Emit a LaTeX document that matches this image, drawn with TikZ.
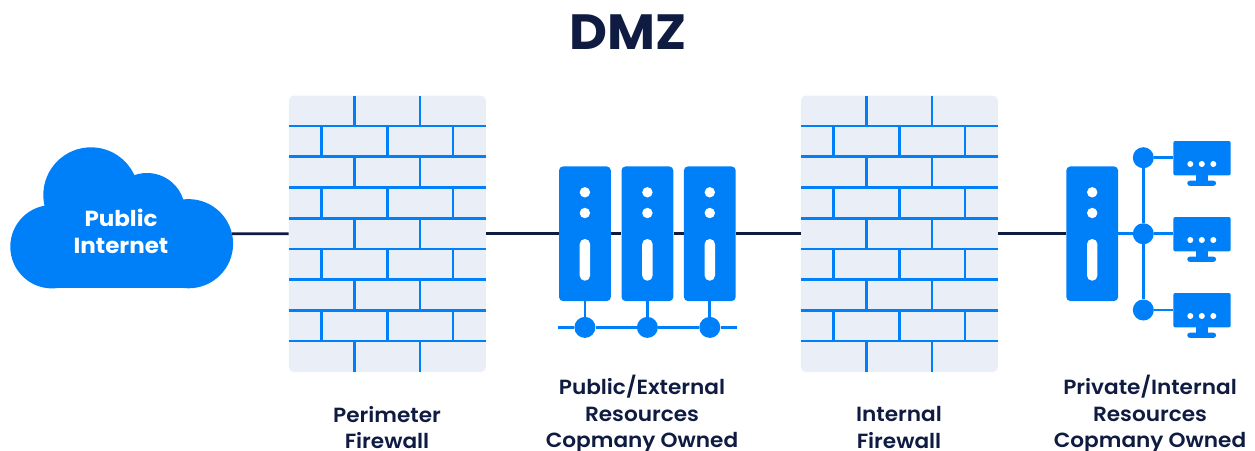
\documentclass[tikz,border=0pt]{standalone}
\usepackage{fontspec}
\setmainfont{Poppins SemiBold}[BoldFont={Poppins Bold},FakeStretch=1.055]
\definecolor{bluec}{HTML}{0080F8}
\definecolor{navy}{HTML}{0F1B41}
\definecolor{wallc}{HTML}{EAEEF6}
\tikzset{
  wall/.style={fill=wallc,rounded corners=5pt,minimum width=197pt,minimum height=276.5pt,inner sep=0pt,draw=none},
  brick/.style={draw=bluec,line width=2.7pt},
  srv/.style={fill=bluec,rounded corners=4pt,minimum width=51.8pt,minimum height=134.6pt,inner sep=0pt,draw=none},
  hub/.style={circle,fill=bluec,minimum size=21pt,inner sep=0pt,draw=none},
  link/.style={draw=bluec,line width=2.7pt},
  wire/.style={draw=navy,line width=2.7pt},
  lbl/.style={text=navy,align=center,font=\fontsize{20.5pt}{26.5pt}\selectfont,anchor=center},
  mon/.style={fill=bluec,rounded corners=2pt,minimum width=57.4pt,minimum height=34.4pt,inner sep=0pt,draw=none},
}
\newcommand{\bricks}[1]{%
  \begin{scope}[xshift=#1pt]
    \foreach \yy in {126,156.7,187.7,218.3,249,279.7,310.3,341}
      \draw[brick] (289,\yy) -- (485.7,\yy);
    \foreach \a/\b in {95.5/126,156.7/187.7,218.3/249,279.7/310.3,341/372}
      \foreach \xx in {354.7,420}
        \draw[brick] (\xx,\a) -- (\xx,\b);
    \foreach \a/\b in {126/156.7,187.7/218.3,249/279.7,310.3/341}
      \foreach \xx in {321.7,387.3,453}
        \draw[brick] (\xx,\a) -- (\xx,\b);
  \end{scope}}
\newcommand{\srvholes}[1]{%
  \fill[white] (#1,192.3) circle (5.2);
  \fill[white] (#1,213) circle (5.2);
  \fill[white,rounded corners=5.1pt] (#1-5.2,239) rectangle (#1+5.2,280.7);}
\newcommand{\monparts}[1]{%
  \fill[bluec] (1195.7,175+#1) rectangle (1208.3,182+#1);
  \fill[bluec,rounded corners=2.4pt] (1187.3,180.7+#1) rectangle (1216,185.8+#1);
  \fill[white] (1190.3,164+#1) circle (3);
  \fill[white] (1201.8,164+#1) circle (3);
  \fill[white] (1213.3,164+#1) circle (3);}
\begin{document}
\begin{tikzpicture}[x=1pt,y=-1pt]
\useasboundingbox (0,0) rectangle (1255,450);
% cloud
\fill[bluec] (52,246.7) circle (41.7);
\fill[bluec] (188.5,243.7) circle (44.6);
\fill[bluec] (91,195) circle (47.7);
\fill[bluec] (147,211) circle (38);
\fill[bluec] (52,205) rectangle (188.5,288.35);
\coordinate (cloudE) at (232,233.7);
\node[text=white,align=center,font=\bfseries\fontsize{21.8pt}{27pt}\selectfont] (cloud) at (121,231.5) {Public\\Internet};
% nodes
\node[wall] (fwa) at (387.35,233.75) {};
\node[wall] (fwb) at (899.35,233.75) {};
\node[srv] (sa) at (584.9,233.75) {};
\node[srv] (sb) at (647.4,233.75) {};
\node[srv] (sc) at (709.8,233.75) {};
\node[srv] (sd) at (1092.2,233.75) {};
% wires
\draw[wire] (cloudE) -- (fwa.west);
\draw[wire] (fwa.east) -- (sa.west);
\draw[wire] (sa.east) -- (sb.west);
\draw[wire] (sb.east) -- (sc.west);
\draw[wire] (sc.east) -- (fwb.west);
\draw[wire] (fwb.east) -- (sd.west);
\bricks{0}
\bricks{512}
\srvholes{584.9}
\srvholes{647.4}
\srvholes{709.8}
\srvholes{1092.2}
% public bus
\node[hub] (ha) at (584.9,327.4) {};
\node[hub] (hb) at (647.4,327.4) {};
\node[hub] (hc) at (709.8,327.4) {};
\coordinate (busL) at (558,327.4);
\coordinate (busR) at (736.7,327.4);
\draw[link] (busL) -- (ha) -- (hb) -- (hc) -- (busR);
\draw[link] (sa.south) -- (ha);
\draw[link] (sb.south) -- (hb);
\draw[link] (sc.south) -- (hc);
% private side
\node[hub] (pa) at (1143.3,157.7) {};
\node[hub] (pb) at (1143.3,233.75) {};
\node[hub] (pc) at (1143.3,310) {};
\node[mon] (ma) at (1202,158.2) {};
\node[mon] (mb) at (1202,234.2) {};
\node[mon] (mc) at (1202,310.2) {};
\draw[link] (pa) -- (pb) -- (pc);
\draw[link] (sd.east) -- (pb);
\draw[link] (pa) -- (pa -| ma.west);
\draw[link] (pb) -- (pb -| mb.west);
\draw[link] (pc) -- (pc -| mc.west);
\monparts{0}
\monparts{76}
\monparts{152}
% text
\node[text=navy,font=\bfseries\fontsize{49.5pt}{50pt}\selectfont] (title) at (628.5,32.5) {DMZ};
\node[lbl] (la) at (387,427.5) {Perimeter\\Firewall};
\node[lbl] (lb) at (642,414) {Public/External\\Resources\\Copmany Owned};
\node[lbl] (lc) at (899,427.5) {Internal\\Firewall};
\node[lbl] (ld) at (1150,414) {Private/Internal\\Resources\\Copmany Owned};
\end{tikzpicture}
\end{document}
